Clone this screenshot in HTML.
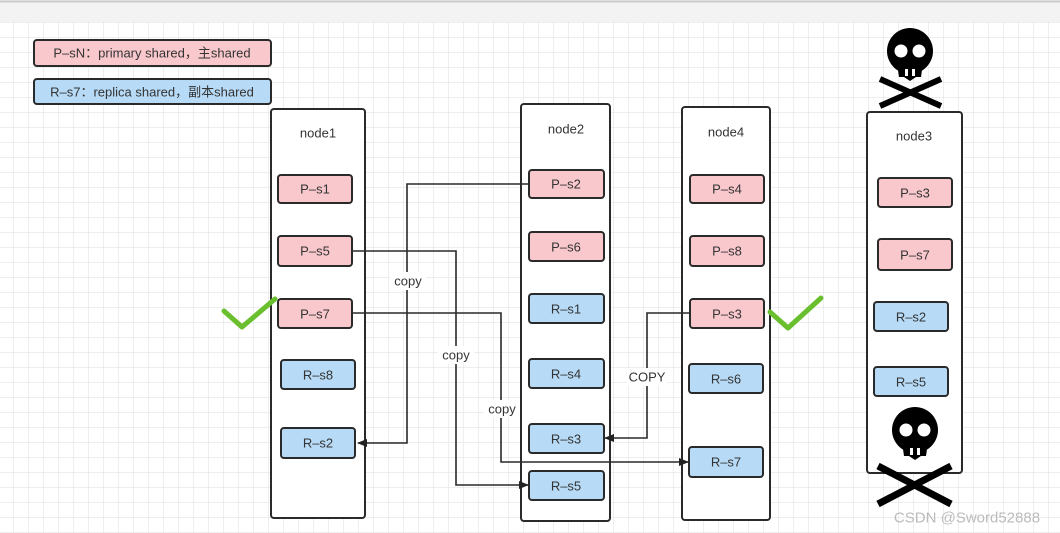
<!DOCTYPE html>
<html><head><meta charset="utf-8"><style>
html,body{margin:0;padding:0;width:1060px;height:533px;overflow:hidden;background:#fff}
svg{display:block}
text{font-family:"Liberation Sans","Noto Sans CJK SC",sans-serif;font-size:13px;fill:#333;text-anchor:middle;dominant-baseline:central}
</style></head><body>
<svg width="1060" height="533" xmlns="http://www.w3.org/2000/svg">
<defs>
<pattern id="g" x="13" y="7" width="15" height="15" patternUnits="userSpaceOnUse">
<path d="M0 0V15M0 0H15" stroke="#dedede" stroke-width="1" fill="none"/>
</pattern>
<marker id="a" markerWidth="10" markerHeight="10" refX="9" refY="5" orient="auto" markerUnits="userSpaceOnUse">
<path d="M0 1L10 5L0 9z" fill="#222"/>
</marker>
<g id="skull">
<circle cx="0" cy="-4" r="23" fill="#000"/>
<path d="M-13 8H13L11 22H-11z" fill="#000"/>
<path d="M0 26L-9 20H9z" fill="#000"/>
<circle cx="-9" cy="-4" r="6.5" fill="#fff"/><circle cx="9" cy="-4" r="6.5" fill="#fff"/>
<rect x="-5" y="14" width="3" height="7" fill="#fff"/><rect x="2" y="14" width="3" height="7" fill="#fff"/>
</g>
</defs>
<rect width="1060" height="533" fill="#fff"/>
<rect y="22" width="1060" height="511" fill="url(#g)"/>
<rect width="1060" height="22" fill="#f3f3f3"/>
<line x1="0" y1="1.5" x2="1060" y2="1.5" stroke="#ccc" stroke-width="2"/>

<g stroke="#2a2a2a" stroke-width="2">
<rect x="34" y="40" width="237" height="26" rx="3" fill="#f9c8cd"/>
<rect x="34" y="79" width="237" height="25" rx="3" fill="#b7dbf7"/>
<rect x="271" y="109" width="94" height="409" rx="3" fill="#fff"/>
<rect x="521" y="104" width="89" height="417" rx="3" fill="#fff"/>
<rect x="682" y="107" width="88" height="413" rx="3" fill="#fff"/>
<rect x="867" y="112" width="95" height="361" rx="3" fill="#fff"/>
</g>
<text x="152" y="53">P–sN：primary shared，主shared</text>
<text x="152" y="92">R–s7：replica shared，副本shared</text>
<text x="318" y="133">node1</text>
<text x="566" y="129">node2</text>
<text x="726" y="132">node4</text>
<text x="914" y="136">node3</text>

<g stroke="#2a2a2a" stroke-width="2">
<rect x="278" y="175" width="74" height="28" rx="3" fill="#f9c8cd"/>
<rect x="278" y="236" width="74" height="30" rx="3" fill="#f9c8cd"/>
<rect x="278" y="299" width="74" height="29" rx="3" fill="#f9c8cd"/>
<rect x="281" y="360" width="74" height="29" rx="3" fill="#b7dbf7"/>
<rect x="281" y="428" width="74" height="30" rx="3" fill="#b7dbf7"/>

<rect x="529" y="170" width="75" height="28" rx="3" fill="#f9c8cd"/>
<rect x="529" y="232" width="75" height="29" rx="3" fill="#f9c8cd"/>
<rect x="529" y="294" width="75" height="29" rx="3" fill="#b7dbf7"/>
<rect x="529" y="359" width="75" height="29" rx="3" fill="#b7dbf7"/>
<rect x="529" y="424" width="75" height="29" rx="3" fill="#b7dbf7"/>
<rect x="529" y="471" width="75" height="29" rx="3" fill="#b7dbf7"/>

<rect x="690" y="175" width="74" height="28" rx="3" fill="#f9c8cd"/>
<rect x="690" y="236" width="74" height="30" rx="3" fill="#f9c8cd"/>
<rect x="690" y="299" width="74" height="29" rx="3" fill="#f9c8cd"/>
<rect x="689" y="364" width="74" height="29" rx="3" fill="#b7dbf7"/>
<rect x="689" y="447" width="74" height="30" rx="3" fill="#b7dbf7"/>

<rect x="878" y="178" width="74" height="29" rx="3" fill="#f9c8cd"/>
<rect x="878" y="239" width="74" height="31" rx="3" fill="#f9c8cd"/>
<rect x="874" y="302" width="74" height="29" rx="3" fill="#b7dbf7"/>
<rect x="874" y="367" width="74" height="29" rx="3" fill="#b7dbf7"/>
</g>
<text x="315" y="189">P–s1</text><text x="315" y="251">P–s5</text><text x="315" y="314">P–s7</text>
<text x="318" y="375">R–s8</text><text x="318" y="443">R–s2</text>
<text x="566" y="184">P–s2</text><text x="566" y="247">P–s6</text><text x="566" y="309">R–s1</text>
<text x="566" y="374">R–s4</text><text x="566" y="439">R–s3</text><text x="566" y="486">R–s5</text>
<text x="727" y="189">P–s4</text><text x="727" y="251">P–s8</text><text x="727" y="314">P–s3</text>
<text x="726" y="379">R–s6</text><text x="726" y="462">R–s7</text>
<text x="915" y="193">P–s3</text><text x="915" y="255">P–s7</text>
<text x="911" y="317">R–s2</text><text x="911" y="382">R–s5</text>

<g stroke="#2a2a2a" stroke-width="1.6" fill="none">
<path d="M529 184H407V443H358" marker-end="url(#a)"/>
<path d="M352 251H456V485H528" marker-end="url(#a)"/>
<path d="M352 313H501V462H688" marker-end="url(#a)"/>
<path d="M690 313H647V438H605" marker-end="url(#a)"/>
</g>
<g>
<rect x="390" y="272" width="36" height="18" fill="#fff"/><text x="408" y="281">copy</text>
<rect x="438" y="346" width="36" height="18" fill="#fff"/><text x="456" y="355">copy</text>
<rect x="484" y="400" width="36" height="18" fill="#fff"/><text x="502" y="409">copy</text>
<rect x="627" y="368" width="40" height="18" fill="#fff"/><text x="647" y="377">COPY</text>
</g>

<g stroke="#6abf2e" stroke-width="5" fill="none" stroke-linecap="round" stroke-linejoin="round">
<path d="M224 311L242 327L275 299"/>
<path d="M770 312L788 328L821 298"/>
</g>

<use href="#skull" x="910" y="55"/>
<g stroke="#000" stroke-width="6"><path d="M880 79L941 106M880 106L941 79"/></g>
<use href="#skull" x="915" y="434"/>
<g stroke="#000" stroke-width="7"><path d="M878 466L951 504M878 504L951 466"/></g>

<text x="967" y="518" style="font-size:15px;fill:#bbb">CSDN @Sword52888</text>
</svg>
</body></html>
